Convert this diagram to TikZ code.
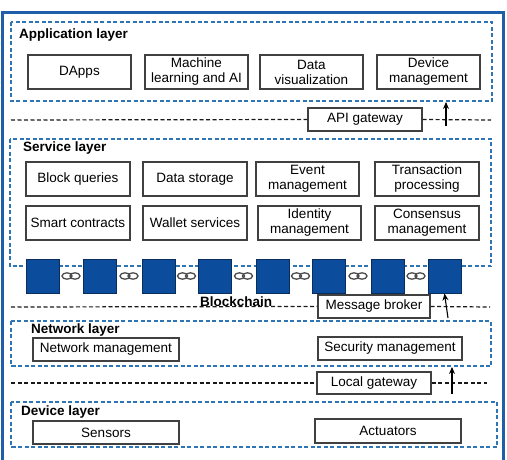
\documentclass[tikz,border=0pt]{standalone}
\usepackage{fontspec}
\setmainfont{Liberation Sans}
\usetikzlibrary{arrows.meta,calc}
\definecolor{frameblue}{HTML}{1F5EA8}
\definecolor{layerblue}{HTML}{2E75B6}
\definecolor{blockfill}{HTML}{0B4C9C}
\definecolor{blockedge}{HTML}{0A2D5C}
\definecolor{boxedge}{HTML}{404040}
\tikzset{
  every node/.style={font=\fontsize{13.5pt}{15pt}\selectfont},
  compbox/.style={draw=boxedge, line width=1.1pt, fill=white, rectangle, align=center, inner sep=0pt},
  layerbox/.style={draw=layerblue, line width=1.2pt, dash pattern=on 4pt off 2.5pt},
  busline/.style={draw=black!90, line width=1.2pt, dash pattern=on 4pt off 2.5pt},
  title/.style={font=\fontsize{13.5pt}{15pt}\selectfont\bfseries, anchor=west, inner sep=0pt},
  blockbox/.style={draw=blockedge, line width=1pt, fill=blockfill, minimum width=33pt, minimum height=34pt, inner sep=0pt},
  uparrow/.style={draw=black, line width=1.1pt, -{Stealth[length=7pt,width=6pt]}},
  linkring/.style={draw=black!70, line width=1.3pt},
  outerframe/.style={draw=frameblue, line width=3pt}
}
\begin{document}
\begin{tikzpicture}[x=1pt,y=-1pt]
\useasboundingbox[fill=white] (0,0) rectangle (507,460);
% outer frame
\coordinate (f1) at (2.5,460);
\coordinate (f2) at (2.5,12.5);
\coordinate (f3) at (503,12.5);
\coordinate (f4) at (503,460);
\draw[outerframe] (f1) -- (f2) -- (f3) -- (f4);
% layer boxes
\draw[layerbox] (11,22) rectangle (492,101);
\draw[layerbox] (10,139) rectangle (491,266);
\draw[layerbox] (11,321) rectangle (491,366);
\draw[layerbox] (11,402) rectangle (497,447);
% titles
\node[title] (tapp) at (19,35) {Application layer};
\node[title] (tsrv) at (23,148) {Service layer};
\node[title] (tnet) at (31,330) {Network layer};
\node[title] (tdev) at (21,412) {Device layer};
% application layer
\node[compbox, minimum width=103pt, minimum height=34pt] (dapps) at (79.5,72) {DApps};
\node[compbox, minimum width=103pt, minimum height=34pt] (ml) at (196.5,72) {Machine\\learning and AI};
\node[compbox, minimum width=103pt, minimum height=34pt] (dviz) at (311.5,72) {Data\\visualization};
\node[compbox, minimum width=103pt, minimum height=34pt] (devm) at (428.5,72) {Device\\management};
% API gateway
\node[compbox, minimum width=114pt, minimum height=23pt] (api) at (365,119.5) {API gateway};
\coordinate (l1a) at (11,120);
\coordinate (l1b) at (491,120);
\draw[busline] (l1a) -- (api.west);
\draw[busline] (api.east) -- (l1b);
\coordinate (a1s) at (446,126);
\coordinate (a1e) at (446,102);
\draw[uparrow] (a1s) -- (a1e);
% service layer
\node[compbox, minimum width=104pt, minimum height=34pt] (bq) at (78,179) {Block queries};
\node[compbox, minimum width=104pt, minimum height=34pt] (ds) at (195,179) {Data storage};
\node[compbox, minimum width=103pt, minimum height=34pt] (em) at (307.5,179) {Event\\management};
\node[compbox, minimum width=104pt, minimum height=34pt] (tp) at (427,179) {Transaction\\processing};
\node[compbox, minimum width=104pt, minimum height=34pt] (sc) at (78,223) {Smart contracts};
\node[compbox, minimum width=104pt, minimum height=34pt] (ws) at (195,223) {Wallet services};
\node[compbox, minimum width=103pt, minimum height=34pt] (im) at (309.5,223) {Identity\\management};
\node[compbox, minimum width=104pt, minimum height=34pt] (cm) at (427,223) {Consensus\\management};
% blockchain
\foreach \i/\x in {1/26,2/83,3/142,4/198,5/256,6/312,7/371,8/428}{
  \node[blockbox] (b\i) at (\x+16.5,276) {};
}
\foreach \i/\j in {1/2,2/3,3/4,4/5,5/6,6/7,7/8}{
  \coordinate (lk\i) at ($(b\i.east)!0.5!(b\j.west)$);
  \draw[linkring] ($(lk\i)+(-4,0)$) ellipse [x radius=5pt, y radius=3.2pt];
  \draw[linkring] ($(lk\i)+(4,0)$) ellipse [x radius=5pt, y radius=3.2pt];
}
\node[title] (tbc) at (200,302) {Blockchain};
% message broker
\node[compbox, minimum width=112pt, minimum height=23pt] (mb) at (374,306.5) {Message broker};
\coordinate (l2a) at (11,307);
\coordinate (l2b) at (490,307);
\draw[busline] (l2a) -- (mb.west);
\draw[busline] (mb.east) -- (l2b);
\coordinate (a2s) at (448,318);
\draw[uparrow] (a2s) -- (b8.south);
% network layer
\node[compbox, minimum width=146pt, minimum height=23pt] (nm) at (106,349.5) {Network management};
\node[compbox, minimum width=144pt, minimum height=23pt] (sm) at (390,348.5) {Security management};
% local gateway
\node[compbox, minimum width=114pt, minimum height=22pt] (lg) at (374,383) {Local gateway};
\coordinate (l3a) at (11,383);
\coordinate (l3b) at (487,383);
\draw[busline] (l3a) -- (lg.west);
\draw[busline] (lg.east) -- (l3b);
\coordinate (a3s) at (452,394);
\coordinate (a3e) at (452,367);
\draw[uparrow] (a3s) -- (a3e);
% device layer
\node[compbox, minimum width=146pt, minimum height=23pt] (sen) at (106,432.5) {Sensors};
\node[compbox, minimum width=146pt, minimum height=24pt] (act) at (388,431) {Actuators};
\end{tikzpicture}
\end{document}
